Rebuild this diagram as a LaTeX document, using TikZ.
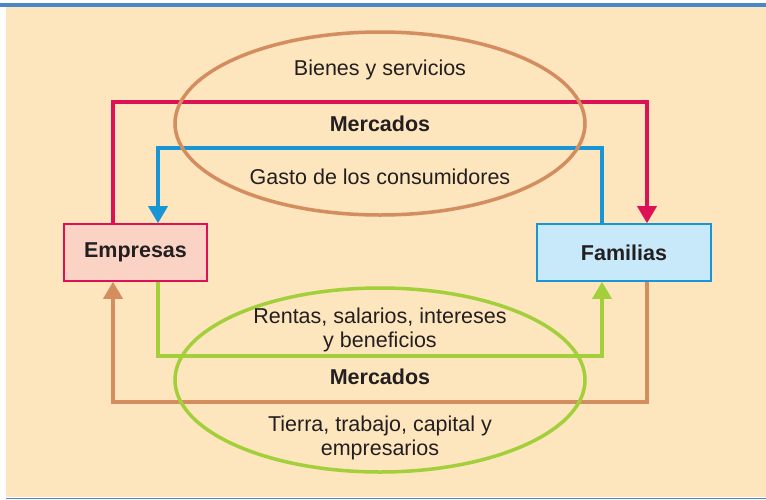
\documentclass[tikz,border=0pt]{standalone}
\usepackage{fontspec}
\setmainfont{Liberation Sans}
\usetikzlibrary{arrows.meta}
\definecolor{fondo}{HTML}{FDE5BD}
\definecolor{barra}{HTML}{4A87C9}
\definecolor{marron}{HTML}{D38D5E}
\definecolor{verde}{HTML}{A3CF3B}
\definecolor{rojo}{HTML}{DD1155}
\definecolor{azul}{HTML}{1795D5}
\definecolor{rosa}{HTML}{FBD3C4}
\definecolor{celeste}{HTML}{C8E9F9}
\definecolor{tinta}{HTML}{231F20}

\begin{document}
\begin{tikzpicture}[x=1pt, y=-1pt,
    flujo/.style={line width=3.5pt, -{Triangle[width=19pt,length=17pt]}},
    caja/.style={draw, line width=1.6pt, minimum height=57pt, text=tinta,
      font=\fontsize{21.5}{25}\selectfont\bfseries},
    texto/.style={align=center, text=tinta, font=\fontsize{21.5}{24}\selectfont},
    negrita/.style={texto, font=\fontsize{21.5}{24}\selectfont\bfseries}]
          \useasboundingbox (0, 0) rectangle (766, 499);
          \fill [fondo] (6, 7) rectangle (766, 497);
          \fill [barra] (0, 3) rectangle (766, 7);
          \draw [barra, line width=1pt] (6, 498) -- (766, 498);

          \node [caja, draw=rojo, fill=rosa, minimum width=143pt] (emp) at (135.5, 252.5) {Empresas};
          \node [caja, draw=azul, fill=celeste, minimum width=174pt] (fam) at (624, 252.5) {Familias};

          \coordinate (r) at (647, 102);
          \coordinate (b) at (158, 148);
          \coordinate (v) at (602, 356);
          \coordinate (m) at (113, 402);
          \draw [flujo, rojo] ([xshift=-22.5pt]emp.north) |- (r) -- (r |- fam.north);
          \draw [flujo, azul] ([xshift=-22pt]fam.north) |- (b) -- (b |- emp.north);
          \draw [flujo, verde] ([xshift=22.5pt]emp.south) |- (v) -- (v |- fam.south);
          \draw [flujo, marron] ([xshift=23pt]fam.south) |- (m) -- (m |- emp.south);

          \draw [marron, line width=3.5pt] (380, 123.5) ellipse [x radius=205, y radius=91.5];
          \draw [verde, line width=3.5pt] (380, 380) ellipse [x radius=205, y radius=92];

          \node [texto] (bienes) at (380, 70) {Bienes y servicios};
          \node [negrita] (merc1) at (380, 124) {Mercados};
          \node [texto] (gasto) at (380, 177) {Gasto de los consumidores};
          \node [texto] (rentas) at (380, 330) {Rentas, salarios, intereses\\y beneficios};
          \node [negrita] (merc2) at (380, 377) {Mercados};
          \node [texto] (tierra) at (380, 438) {Tierra, trabajo, capital y\\empresarios};
        \end{tikzpicture}
\end{document}
